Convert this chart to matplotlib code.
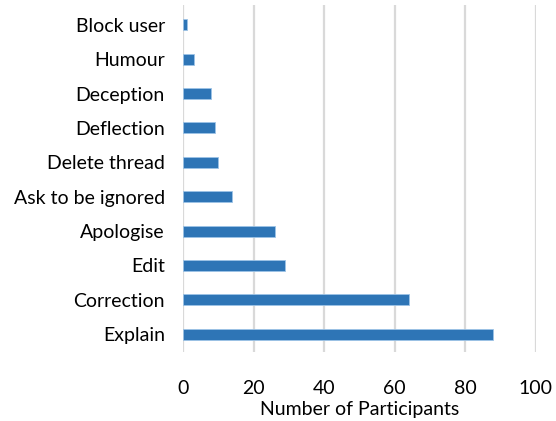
import matplotlib.pyplot as plt

# categories listed bottom to top
categories = ['Explain', 'Correction', 'Edit', 'Apologise', 'Ask to be ignored',
              'Delete thread', 'Deflection', 'Deception', 'Humour', 'Block user']
participants = [88, 64, 29, 26, 14, 10, 9, 8, 3, 1]
x_ticks = [0, 20, 40, 60, 80, 100]

plt.rcParams['font.family'] = ['Lato', 'DejaVu Sans']

fig = plt.figure(figsize=(5.56, 4.21), dpi=100)
ax = fig.add_axes([183 / 556, 1 - 352 / 421, (535.7 - 183) / 556, (352 - 5) / 421])

ax.barh(range(len(categories)), participants, height=0.32, color='#2E75B6',
        edgecolor='#9DC3E6', linewidth=0.6, zorder=3)

ax.set_xlim(0, 100)
ax.set_ylim(-0.52, 9.58)
ax.set_xticks(x_ticks)
ax.set_yticks(range(len(categories)))
ax.set_yticklabels(categories)
ax.grid(axis='x', color='#d9d9d9', linewidth=1.6, zorder=0)
for s in ax.spines.values():
    s.set_visible(False)
ax.tick_params(axis='y', length=0, pad=13, labelsize=14)
ax.tick_params(axis='x', length=0, pad=20, labelsize=14)
ax.set_xlabel('Number of Participants', fontsize=14)
ax.xaxis.set_label_coords(0.5, -0.142)

fig.savefig('out.png', dpi=100)
